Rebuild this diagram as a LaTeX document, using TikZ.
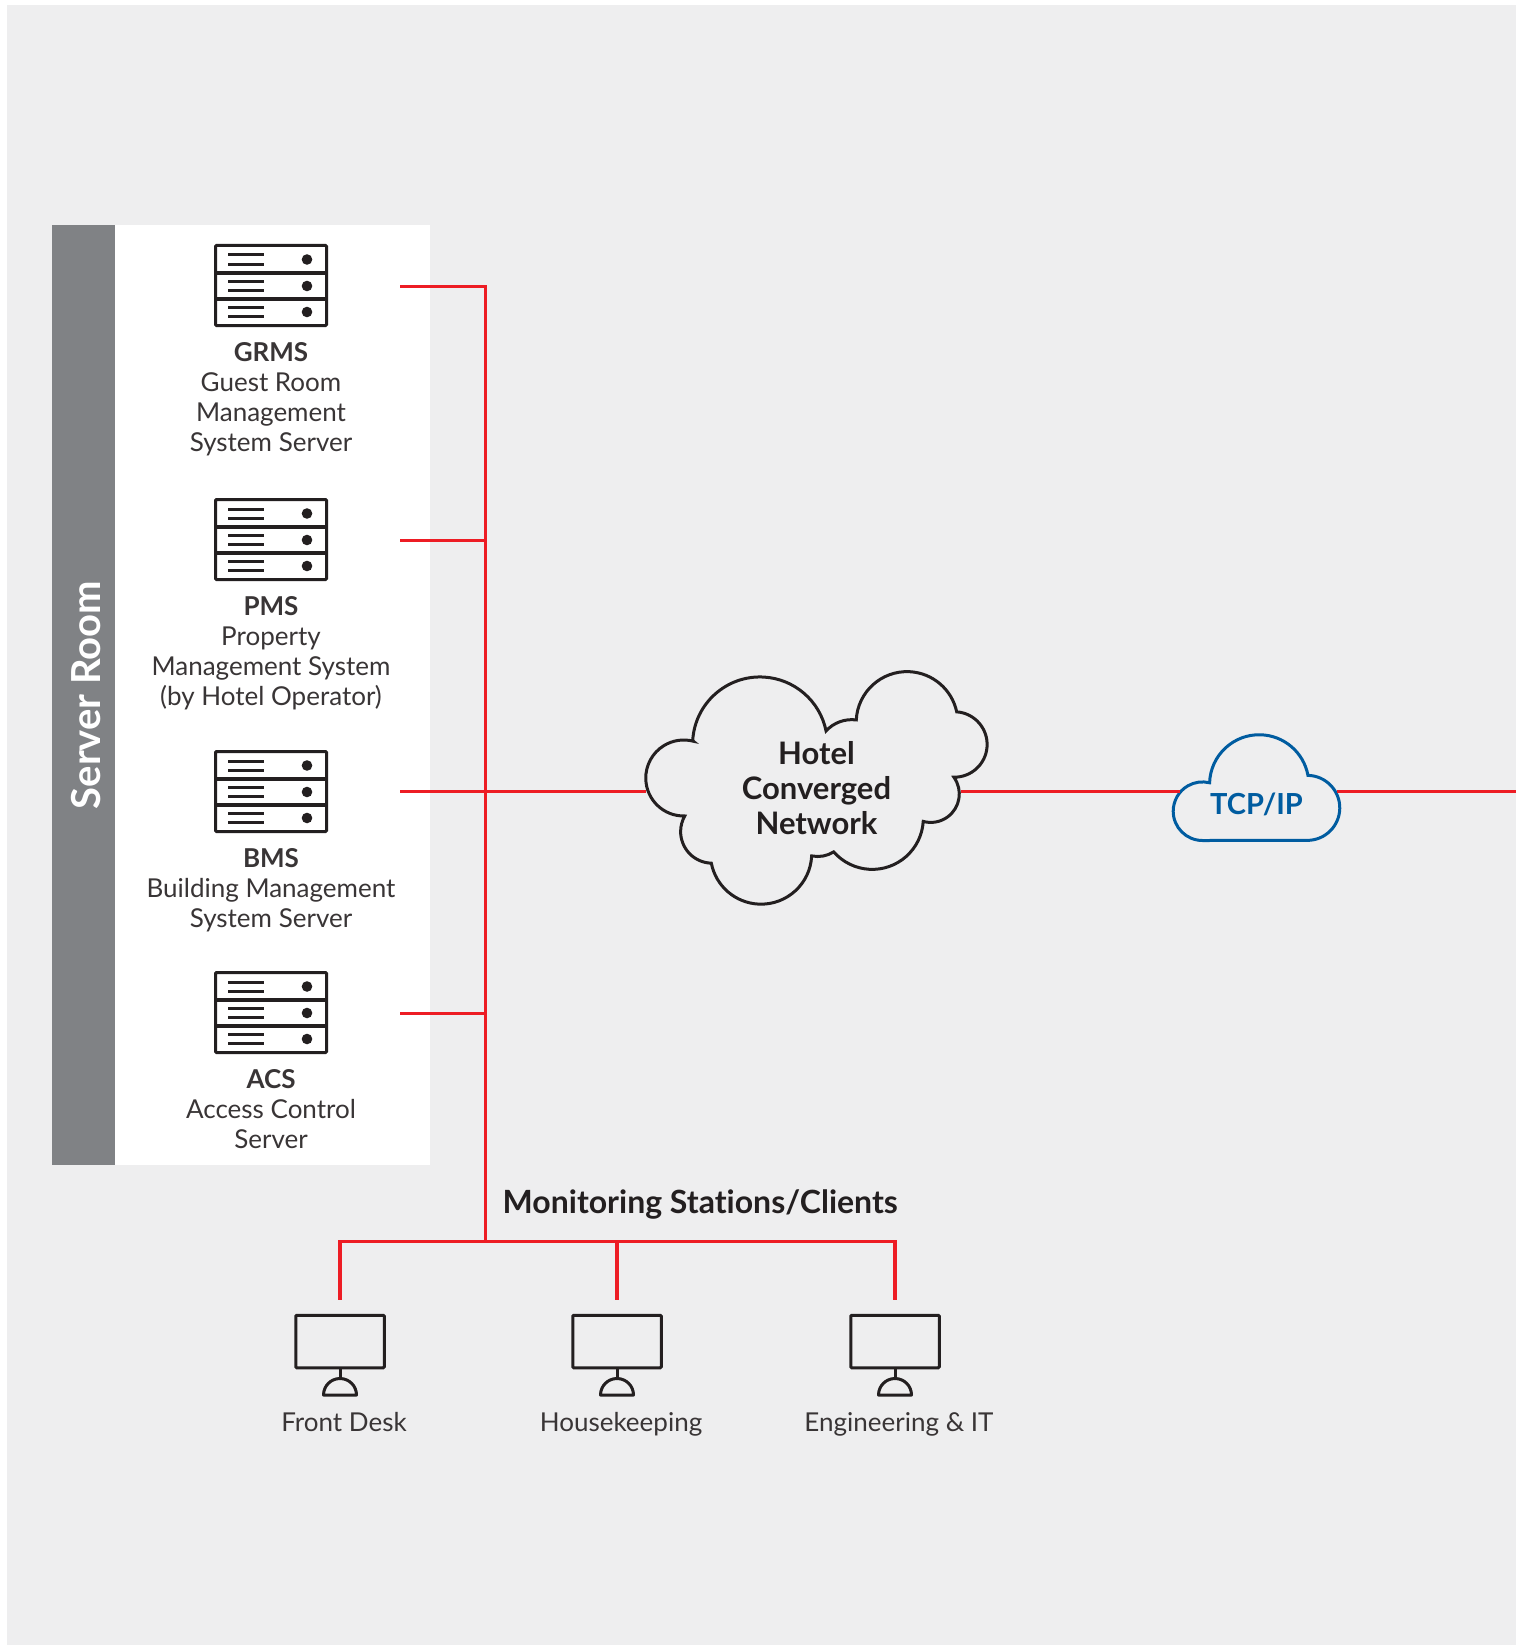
\documentclass[tikz,border=0pt]{standalone}
\usepackage{fontspec}
\setmainfont{Lato}[Ligatures=NoCommon]
\usetikzlibrary{positioning}
\definecolor{pagegrey}{HTML}{EEEEEF}
\definecolor{roomgrey}{HTML}{808285}
\definecolor{inkblack}{HTML}{231F20}
\definecolor{linkred}{HTML}{ED1C24}
\definecolor{tcpblue}{HTML}{005CA0}
\tikzset{
    redlink/.style={linkred, line width=3.3pt},
    inkline/.style={inkblack, line width=3pt, line join=round},
    rack/.style={draw=inkblack, line width=3pt, rounded corners=1pt, minimum width=111pt, minimum height=80pt, inner sep=0pt},
    screen/.style={draw=inkblack, line width=3pt, rounded corners=1pt, minimum width=88.5pt, minimum height=52.5pt, inner sep=0pt},
    caption/.style={inkblack!90, align=center, inner sep=0pt, font=\fontsize{26}{30}\selectfont},
    heavy/.style={inkblack, align=center, inner sep=0pt, font=\fontsize{31}{35}\selectfont\bfseries}
}
\begin{document}
\begin{tikzpicture}[x=1pt, y=-1pt]
        \useasboundingbox (0,0) rectangle (1516,1645);
        \fill[pagegrey] (7,5) rectangle (1516,1645);
        \fill[white] (115,225) rectangle (430,1165);
        \fill[roomgrey] (52,225) rectangle (115,1165);
        \node[white, rotate=90, inner sep=0pt, font=\fontsize{40}{48}\selectfont\bfseries] (room) at (86,695) {Server Room};

        \foreach \name/\ty/\head/\body in {grms/244/GRMS/{Guest Room\\Management\\System Server},
            pms/498/PMS/{Property\\Management System\\(by Hotel Operator)},
            bms/750/BMS/{Building Management\\System Server},
            acs/971/ACS/{Access Control\\Server}} {
            \node[rack] (\name) at (271, \ty + 41.5) {};
            \draw[inkline, line width=3.5pt] (\name.west |- 0, \ty + 29) -- (\name.east |- 0, \ty + 29);
            \draw[inkline, line width=3.5pt] (\name.west |- 0, \ty + 55) -- (\name.east |- 0, \ty + 55);
            \foreach \dy in {0, 26.5, 52.5} {
                \draw[inkblack, line width=3pt] (228, \ty + 11 + \dy) -- (264, \ty + 11 + \dy);
                \draw[inkblack, line width=3pt] (228, \ty + 20 + \dy) -- (264, \ty + 20 + \dy);
                \fill[inkblack] (307, \ty + 15.5 + \dy) circle[radius=5.3];
            }
            \node[caption, below=15pt of \name] (\name-text) {\textbf{\head}\\\body};
            \coordinate (\name-port) at (400, \ty + 42.5);
            \coordinate (\name-bus) at (485.5, \ty + 42.5);
        }

        \coordinate (client-bus) at (485.5, 1241.5);
        \draw[redlink] (grms-port) -- (grms-bus) -- (client-bus);
        \draw[redlink] (pms-port) -- (pms-bus);
        \draw[redlink] (acs-port) -- (acs-bus);

        % network clouds
        \draw[inkblack, line width=3pt, line join=miter]
            (692.7,740.7) arc[start angle=183.1, end angle=348.5, radius=67.4]
            arc[start angle=222.7, end angle=277.4, radius=35]
            arc[start angle=182.8, end angle=348, radius=50.8]
            arc[start angle=-86, end angle=91, radius=32.7]
            arc[start angle=-36, end angle=105.4, radius=28.5]
            arc[start angle=3.5, end angle=138.9, radius=51.1]
            arc[start angle=57.7, end angle=101.6, radius=30]
            arc[start angle=2.7, end angle=169, radius=50.65]
            arc[start angle=91.6, end angle=209.6, radius=31.6]
            arc[start angle=88.5, end angle=284.6, radius=38] -- cycle;
        \node[heavy] (hotelnet) at (816.5,788) {Hotel\\Converged\\Network};
        \draw[tcpblue, line width=3pt, line join=miter]
            (1202.5,840.5) arc[start angle=90, end angle=284, radius=29.3]
            arc[start angle=181.8, end angle=349.6, radius=49.6]
            arc[start angle=-88.8, end angle=90, radius=32.5] -- cycle;
        \node[heavy, tcpblue, font=\fontsize{29}{35}\selectfont\bfseries] (tcpip) at (1256.5,804.5) {TCP/IP};

        \coordinate (hotel-left) at (646,791.5);
        \coordinate (hotel-right) at (961,791.5);
        \coordinate (tcp-left) at (1180,791.5);
        \coordinate (tcp-right) at (1337,791.5);
        \coordinate (page-edge) at (1516,791.5);
        \draw[redlink] (bms-port |- hotel-left) -- (hotel-left);
        \draw[redlink] (hotel-right) -- (tcp-left);
        \draw[redlink] (tcp-right) -- (page-edge);

        \node[heavy, anchor=west, font=\fontsize{32}{35}\selectfont\bfseries] (monitoring) at (502.5,1204) {Monitoring Stations/Clients};

        \foreach \name/\tx/\label in {front/340/Front Desk, house/617/Housekeeping, eng/895/Engineering \& IT} {
            \node[screen] (\name) at (\tx, 1341.5) {};
            \draw[inkline] (\name.south) -- (\tx, 1379);
            \draw[inkline] (\tx - 16.5, 1395) arc[start angle=180, end angle=360, radius=16.5] -- cycle;
            \node[caption, anchor=base] (\name-text) at (\tx + 4, 1431) {\label};
            \coordinate (\name-drop) at (\tx, 1299.5);
            \coordinate (\name-bus) at (\tx, 1241.5);
        }
        \draw[redlink] (front-drop) -- (front-bus) -- (eng-bus) -- (eng-drop);
        \draw[redlink] (house-drop) -- (house-bus);
    \end{tikzpicture}
\end{document}
